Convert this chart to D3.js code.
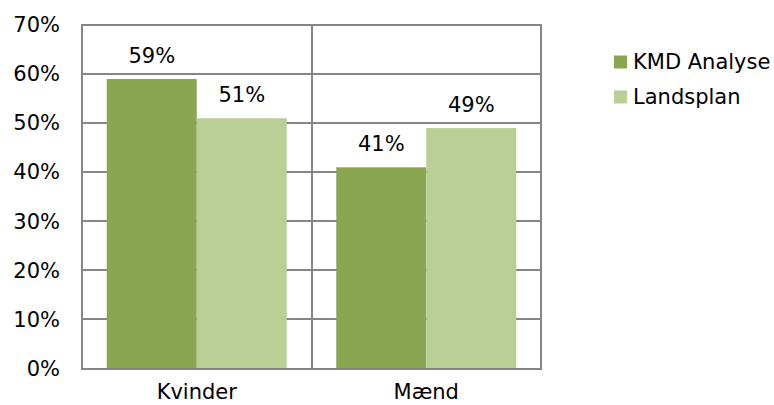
<!DOCTYPE html>
<html><head><meta charset="utf-8">
<script src="https://cdn.jsdelivr.net/npm/d3@7"></script>
<style>body{margin:0;background:#fff}svg{display:block}text{font-family:"DejaVu Sans",Verdana,sans-serif;fill:#000}</style>
</head><body>
<svg id="c" width="774" height="405"></svg>
<script>
const categories = ["Kvinder", "Mænd"];
const seriesNames = ["KMD Analyse", "Landsplan"];
const kmdValues = [59, 41];
const landsplanValues = [51, 49];
const yTicks = [0, 10, 20, 30, 40, 50, 60, 70];
const colors = ["#8aa651", "#bacf96"];

const svg = d3.select("#c");
const L = 82, R = 541, T = 25, B = 368.5;
const FS = 21;
const x = d3.scaleBand().domain(categories).range([L, R]).paddingInner(0).paddingOuter(0);
const y = d3.scaleLinear().domain([0, 70]).range([B, T]);
const x1 = d3.scaleBand().domain(seriesNames).range([0, x.bandwidth()]).paddingInner(0).paddingOuter(0.275);
const grid = "#868686";

svg.append("g").selectAll("line").data(yTicks).join("line")
  .attr("x1", L - 1).attr("x2", R + 1).attr("y1", d => Math.round(y(d))).attr("y2", d => Math.round(y(d)))
  .attr("stroke", grid).attr("stroke-width", 2);
const bounds = [L, ...categories.slice(1).map(c => x(c)), R];
svg.append("g").selectAll("line").data(bounds).join("line")
  .attr("x1", d => Math.round(d)).attr("x2", d => Math.round(d)).attr("y1", T - 1).attr("y2", B + 1)
  .attr("stroke", grid).attr("stroke-width", 2);

const data = categories.map((c, i) => ({cat: c, vals: [kmdValues[i], landsplanValues[i]]}));
const g = svg.append("g").selectAll("g").data(data).join("g").attr("transform", d => `translate(${x(d.cat)},0)`);
g.selectAll("rect").data(d => d.vals.map((v, j) => ({v, s: seriesNames[j], j}))).join("rect")
  .attr("x", d => x1(d.s)).attr("width", x1.bandwidth())
  .attr("y", d => y(d.v)).attr("height", d => B - y(d.v))
  .attr("fill", d => colors[d.j]);
g.selectAll("text").data(d => d.vals.map((v, j) => ({v, s: seriesNames[j]}))).join("text")
  .attr("x", d => x1(d.s) + x1.bandwidth() / 2).attr("y", d => y(d.v) - 16)
  .attr("text-anchor", "middle").attr("font-size", FS).text(d => d.v + "%");

svg.append("line").attr("x1", L - 1).attr("x2", R + 1).attr("y1", Math.round(B)).attr("y2", Math.round(B)).attr("stroke", grid).attr("stroke-width", 2);

const yAxis = d3.axisLeft(y).tickValues(yTicks).tickFormat(d => d + "%").tickSize(0).tickPadding(22);
const ya = svg.append("g").attr("transform", `translate(${L},0)`).call(yAxis);
ya.select(".domain").remove();
ya.selectAll("text").attr("font-size", FS).attr("font-family", "DejaVu Sans").attr("fill", "#000");

const xAxis = d3.axisBottom(x).tickSize(0).tickPadding(16);
const xa = svg.append("g").attr("transform", `translate(0,${B})`).call(xAxis);
xa.select(".domain").remove();
xa.selectAll("text").attr("font-size", FS).attr("font-family", "DejaVu Sans").attr("fill", "#000");

const lg = svg.append("g").selectAll("g").data(seriesNames).join("g")
  .attr("transform", (d, i) => `translate(614,${62 + i * 35})`);
lg.append("rect").attr("x", 0).attr("y", -6.5).attr("width", 13).attr("height", 13).attr("fill", (d, i) => colors[i]);
lg.append("text").attr("x", 19).attr("y", 0).attr("dy", "0.35em").attr("font-size", FS).text(d => d);
</script>
</body></html>
